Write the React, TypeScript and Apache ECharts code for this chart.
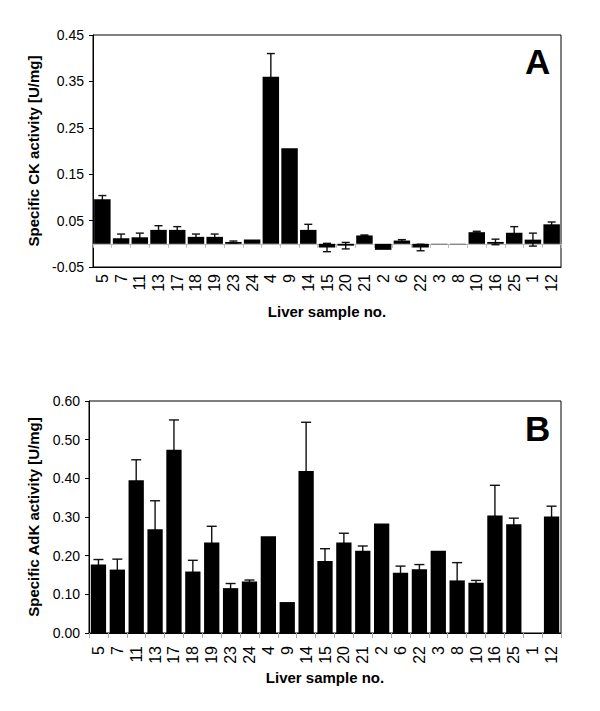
import React, { useEffect, useRef } from "react";
import * as echarts from "echarts";

const categories = ["5","7","11","13","17","18","19","23","24","4","9","14","15","20","21","2","6","22","3","8","10","16","25","1","12"];

const ckValues = [0.096,0.012,0.014,0.030,0.030,0.015,0.015,0.004,0.009,0.360,0.206,0.030,-0.008,-0.004,0.018,-0.013,0.007,-0.008,-0.001,-0.001,0.025,0.004,0.024,0.009,0.042];
const ckErrors = [0.008,0.009,0.009,0.009,0.007,0.006,0.006,0.002,0,0.050,0,0.012,0.009,0.007,0.001,0,0.002,0.007,0,0,0.002,0.006,0.013,0.014,0.005];

const adkValues = [0.177,0.164,0.395,0.268,0.474,0.159,0.234,0.116,0.133,0.250,0.080,0.419,0.186,0.234,0.213,0.283,0.156,0.165,0.213,0.136,0.130,0.304,0.281,0,0.301];
const adkErrors = [0.013,0.027,0.053,0.074,0.077,0.029,0.042,0.012,0.004,0,0,0.126,0.032,0.024,0.012,0,0.017,0.012,0,0.046,0.006,0.078,0.016,0,0.027];

const ckTicks = { min: -0.05, max: 0.45, interval: 0.1 };
const adkTicks = { min: 0, max: 0.6, interval: 0.1 };

const FONT = "Liberation Sans, Arial, sans-serif";

function errorSeries(values: number[], errors: number[], axisIndex: number, capW: number) {
  return {
    type: "custom",
    xAxisIndex: axisIndex,
    yAxisIndex: axisIndex,
    z: 1,
    silent: true,
    data: values.map((v, i) => [i, v, errors[i]]),
    encode: { x: 0, y: 1 },
    renderItem: (params: any, api: any) => {
      const x = api.value(0);
      const v = api.value(1);
      const e = api.value(2);
      if (!e) return null;
      const top = api.coord([x, v + e]);
      const bot = api.coord([x, v - e]);
      const hw = capW / 2;
      const style = { stroke: "#111", lineWidth: 1.4 };
      return {
        type: "group",
        children: [
          { type: "line", shape: { x1: top[0], y1: top[1], x2: bot[0], y2: bot[1] }, style },
          { type: "line", shape: { x1: top[0] - hw, y1: top[1], x2: top[0] + hw, y2: top[1] }, style },
          { type: "line", shape: { x1: bot[0] - hw, y1: bot[1], x2: bot[0] + hw, y2: bot[1] }, style },
        ],
      };
    },
  };
}

export default function App() {
  const ref = useRef<HTMLDivElement>(null);
  useEffect(() => {
    if (!ref.current) return;
    const chart = echarts.init(ref.current, undefined, { renderer: "svg" });
    const yLabel = {
      color: "#000",
      fontFamily: FONT,
      fontSize: 14,
      margin: 9,
      formatter: (v: number) => v.toFixed(2),
    };
    const yName = {
      color: "#000",
      fontFamily: FONT,
      fontSize: 15,
      fontWeight: "bold" as const,
    };
    const xName = { ...yName };
    const xLabelBase = {
      color: "#000",
      fontFamily: FONT,
      fontSize: 16,
      rotate: 90,
      interval: 0,
    };
    chart.setOption({
      animation: false,
      grid: [
        { left: 93, top: 35, width: 468, height: 232, show: true, borderColor: "#000", borderWidth: 1, backgroundColor: "transparent" },
        { left: 89, top: 401, width: 472, height: 232, show: true, borderColor: "#000", borderWidth: 1, backgroundColor: "transparent" },
      ],
      xAxis: [
        {
          type: "category", gridIndex: 0, data: categories, position: "bottom",
          axisLine: { onZero: false, lineStyle: { color: "#000" } },
          axisTick: { show: false },
          axisLabel: { ...xLabelBase, margin: 7 },
          name: "Liver sample no.", nameLocation: "middle", nameGap: 37, nameTextStyle: xName,
        },
        {
          type: "category", gridIndex: 1, data: categories, position: "bottom",
          axisLine: { onZero: false, lineStyle: { color: "#000" } },
          axisTick: { show: true, length: 5, lineStyle: { color: "#aaa" } },
          axisLabel: { ...xLabelBase, margin: 13 },
          name: "Liver sample no.", nameLocation: "middle", nameGap: 37, nameTextStyle: xName,
        },
        {
          type: "category", gridIndex: 0, data: categories, position: "bottom",
          axisLine: { show: true, onZero: true, lineStyle: { color: "#bbb", width: 1 } },
          axisTick: { show: true, length: 4, lineStyle: { color: "#bbb" } },
          axisLabel: { show: false },
        },
      ],
      yAxis: [
        {
          type: "value", gridIndex: 0, min: ckTicks.min, max: ckTicks.max, interval: ckTicks.interval,
          axisLine: { show: true, lineStyle: { color: "#000" } },
          axisTick: { show: true, length: 4, lineStyle: { color: "#000" } },
          splitLine: { show: false },
          axisLabel: yLabel,
          name: "Specific CK activity [U/mg]", nameLocation: "middle", nameGap: 52, nameTextStyle: yName,
        },
        {
          type: "value", gridIndex: 1, min: adkTicks.min, max: adkTicks.max, interval: adkTicks.interval,
          axisLine: { show: true, lineStyle: { color: "#000" } },
          axisTick: { show: true, length: 4, lineStyle: { color: "#000" } },
          splitLine: { show: false },
          axisLabel: yLabel,
          name: "Specific AdK activity [U/mg]", nameLocation: "middle", nameGap: 48, nameTextStyle: yName,
        },
      ],
      series: [
        errorSeries(ckValues, ckErrors, 0, 8),
        {
          type: "bar", xAxisIndex: 0, yAxisIndex: 0, data: ckValues, z: 2,
          barCategoryGap: "12%", itemStyle: { color: "#000" }, silent: true,
        },
        errorSeries(adkValues, adkErrors, 1, 10),
        {
          type: "bar", xAxisIndex: 1, yAxisIndex: 1, data: adkValues, z: 2,
          barCategoryGap: "19%", itemStyle: { color: "#000" }, silent: true,
        },
      ],
      graphic: [
        { type: "text", left: 525, top: 44, style: { text: "A", fontSize: 35, fontWeight: "bold", fontFamily: FONT, fill: "#000" } },
        { type: "text", left: 525, top: 411, style: { text: "B", fontSize: 35, fontWeight: "bold", fontFamily: FONT, fill: "#000" } },
      ],
    });
    return () => chart.dispose();
  }, []);
  return <div ref={ref} style={{ position: "fixed", left: 0, top: 0, width: 600, height: 711, background: "#fff" }} />;
}
